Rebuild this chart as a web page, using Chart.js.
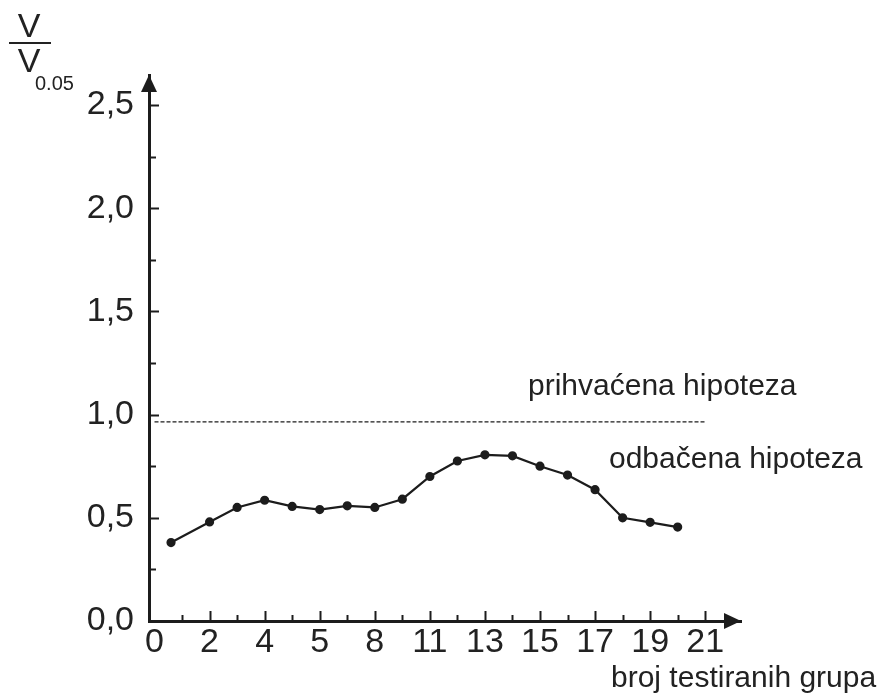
<!DOCTYPE html>
<html lang="sr">
<head>
    <meta charset="UTF-8">
    <title>V / V0.05 - broj testiranih grupa</title>
    <style>
        html, body { margin: 0; padding: 0; background: #fff; }
        .chart-box { width: 877px; height: 693px; position: relative; }
    </style>
</head>
<body>
    <div class="chart-box">
        <canvas id="ratioChart"></canvas>
    </div>

    <script src="https://cdn.jsdelivr.net/npm/chart.js"></script>
    <script>
        // Group count labels shown under the axis (one per axis step)
        const groupLabels = ['0', '2', '4', '5', '8', '11', '13', '15', '17', '19', '21'];
        // Measurement positions along the group axis (in axis steps)
        const groupPos = [0.3, 1, 1.5, 2, 2.5, 3, 3.5, 4, 4.5, 5, 5.5, 6, 6.5, 7, 7.5, 8, 8.5, 9, 9.5];
        // V / V0.05 ratio for each measurement
        const ratio = [0.38, 0.48, 0.55, 0.585, 0.555, 0.54, 0.558, 0.55, 0.59, 0.70,
                       0.775, 0.805, 0.80, 0.75, 0.707, 0.636, 0.50, 0.478, 0.455];
        // Acceptance limit (dashed line) and its extent
        const limitValue = 0.965;
        const limitFrom = 0;
        const limitTo = 10;
        // Y axis tick labels
        const yTickValues = [0, 0.5, 1.0, 1.5, 2.0, 2.5];
        const yTickLabels = ['0,0', '0,5', '1,0', '1,5', '2,0', '2,5'];

        const ink = '#1c1c1c';
        const textInk = '#222';
        const font = '"Liberation Sans", Arial, sans-serif';

        // Inward tick marks, arrow heads and free text labels
        const axisDecor = {
            id: 'axisDecor',
            afterDraw(chart) {
                const ctx = chart.ctx;
                const a = chart.chartArea;
                const x = chart.scales.x;
                const y = chart.scales.y;
                ctx.save();
                ctx.strokeStyle = ink;
                ctx.fillStyle = ink;
                ctx.lineWidth = 2;

                // y ticks: major every 0.5, minor every 0.25
                for (let v = 0.25; v <= 2.5001; v += 0.25) {
                    const py = Math.round(y.getPixelForValue(v)) + 0.5;
                    const len = Math.abs(v * 2 - Math.round(v * 2)) < 1e-6 ? 10 : 7;
                    ctx.beginPath();
                    ctx.moveTo(a.left, py);
                    ctx.lineTo(a.left + len, py);
                    ctx.stroke();
                }
                // x ticks: major at each label, minor halfway between
                for (let i = 0.5; i <= 10.001; i += 0.5) {
                    const px = Math.round(x.getPixelForValue(i)) + 0.5;
                    const len = Number.isInteger(i) ? 10 : 6;
                    ctx.beginPath();
                    ctx.moveTo(px, a.bottom);
                    ctx.lineTo(px, a.bottom - len);
                    ctx.stroke();
                }

                // arrow heads
                ctx.beginPath();
                ctx.moveTo(a.left, a.top);
                ctx.lineTo(a.left - 8, a.top + 17);
                ctx.lineTo(a.left + 8, a.top + 17);
                ctx.closePath();
                ctx.fill();
                ctx.beginPath();
                ctx.moveTo(a.right, a.bottom);
                ctx.lineTo(a.right - 17, a.bottom - 8);
                ctx.lineTo(a.right - 17, a.bottom + 8);
                ctx.closePath();
                ctx.fill();

                // axis name: V over V0.05
                ctx.fillStyle = textInk;
                ctx.textAlign = 'center';
                ctx.textBaseline = 'alphabetic';
                ctx.font = '34px ' + font;
                ctx.fillText('V', 29, 37);
                ctx.fillText('V', 29, 72);
                ctx.fillRect(9, 42, 42, 2);
                ctx.textAlign = 'left';
                ctx.font = '20px ' + font;
                ctx.fillText('0.05', 35, 90);

                // region notes and group axis name
                ctx.font = '30px ' + font;
                ctx.fillText('prihvaćena hipoteza', 528, 395);
                ctx.fillText('odbačena hipoteza', 609, 468);
                ctx.fillText('broj testiranih grupa', 611, 687);
                ctx.restore();
            }
        };

        const ctx = document.getElementById('ratioChart').getContext('2d');
        new Chart(ctx, {
            type: 'line',
            data: {
                datasets: [
                    {
                        data: groupPos.map((g, i) => ({ x: g, y: ratio[i] })),
                        borderColor: ink,
                        backgroundColor: ink,
                        borderWidth: 2.2,
                        pointRadius: 3.5,
                        pointHoverRadius: 3.5,
                        tension: 0
                    },
                    {
                        data: [{ x: limitFrom, y: limitValue }, { x: limitTo, y: limitValue }],
                        borderColor: ink,
                        borderWidth: 1.2,
                        borderDash: [4, 2],
                        pointRadius: 0,
                        tension: 0
                    }
                ]
            },
            options: {
                responsive: true,
                maintainAspectRatio: false,
                animation: false,
                events: [],
                layout: { padding: { left: 0, top: 75, right: 136, bottom: 0 } },
                plugins: {
                    legend: { display: false },
                    tooltip: { enabled: false }
                },
                scales: {
                    x: {
                        type: 'linear',
                        min: -0.1,
                        max: 10.65,
                        afterFit: s => { s.height = 72; },
                        grid: { display: false, drawTicks: false },
                        border: { display: true, color: ink, width: 3 },
                        afterBuildTicks: s => {
                            s.ticks = groupLabels.map((_, i) => ({ value: i }));
                        },
                        ticks: {
                            autoSkip: false,
                            maxRotation: 0,
                            padding: 1,
                            color: textInk,
                            font: { family: font, size: 34 },
                            callback: v => groupLabels[v]
                        }
                    },
                    y: {
                        type: 'linear',
                        min: 0,
                        max: 2.645,
                        afterFit: s => { s.width = 149; },
                        grid: { display: false, drawTicks: false },
                        border: { display: true, color: ink, width: 3 },
                        afterBuildTicks: s => {
                            s.ticks = yTickValues.map(v => ({ value: v }));
                        },
                        ticks: {
                            padding: 15,
                            color: textInk,
                            font: { family: font, size: 34 },
                            callback: v => yTickLabels[yTickValues.indexOf(v)]
                        }
                    }
                }
            },
            plugins: [axisDecor]
        });
    </script>
</body>
</html>
